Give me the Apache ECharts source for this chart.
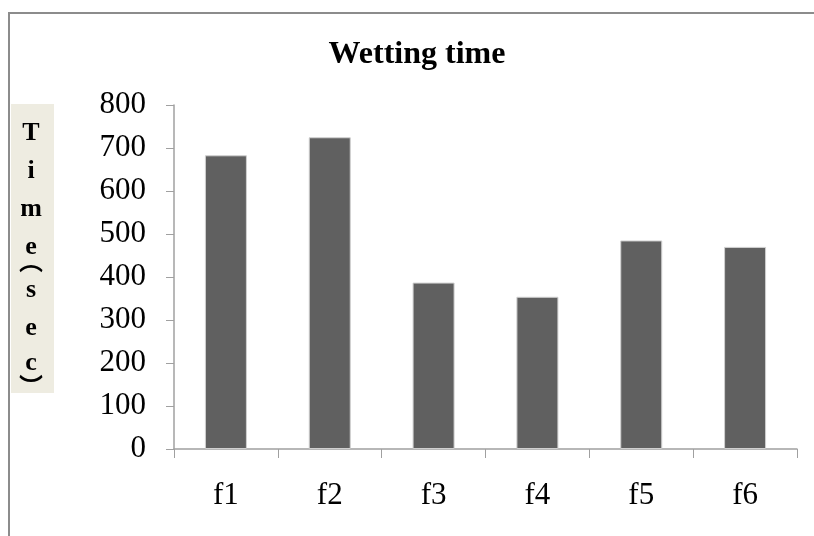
<!DOCTYPE html>
<html>
<head>
<meta charset="utf-8">
<script src="https://cdn.jsdelivr.net/npm/echarts@6/dist/echarts.min.js"></script>
<style>
  html, body { margin: 0; padding: 0; background: #fff; }
  #main { width: 814px; height: 536px; }
</style>
</head>
<body>
<div id="main"></div>
<script>
// 数据
var categories = ['f1', 'f2', 'f3', 'f4', 'f5', 'f6'];
var wettingTime = [683, 725, 387, 354, 485, 470];
var yTicks = { min: 0, max: 800, step: 100 };
var titleText = 'Wetting time';
// 纵轴标题，逐字竖排，括号用竖排形式
var yLabelChars = ['T', 'i', 'm', 'e', '︵', 's', 'e', 'c', '︶'];
var yLabelCharY = [133, 171, 209, 247, 261, 290, 328, 363, 386];

var serif = '"Liberation Serif", "DejaVu Serif", serif';
var cjk = '"Noto Sans CJK SC", sans-serif';

var chart = echarts.init(document.getElementById('main'));

// 纵轴标题的字
var labelTexts = yLabelChars.map(function (ch, i) {
    var isParen = (ch === '︵' || ch === '︶');
    return {
        type: 'text',
        x: 31,
        y: yLabelCharY[i],
        z: 3,
        style: {
            text: ch,
            fill: '#000',
            font: isParen ? ('bold 24px ' + cjk) : ('bold 26px ' + serif),
            align: 'center',
            verticalAlign: 'middle'
        }
    };
});

chart.setOption({
    animation: false,
    backgroundColor: '#fff',
    title: {
        text: titleText,
        left: 412,
        top: 34,
        textAlign: 'center',
        textStyle: {
            fontFamily: serif,
            fontWeight: 'bold',
            fontSize: 32,
            color: '#000'
        }
    },
    grid: {
        left: 174,
        right: 17,
        top: 105,
        bottom: 87,
        containLabel: false
    },
    xAxis: {
        type: 'category',
        data: categories,
        axisLine: { lineStyle: { color: '#a0a0a0', width: 1.5 } },
        axisTick: { show: true, length: 9, alignWithLabel: false, lineStyle: { color: '#a0a0a0' } },
        axisLabel: {
            margin: 31,
            fontFamily: serif,
            fontSize: 31,
            color: '#000'
        },
        splitLine: { show: false }
    },
    yAxis: {
        type: 'value',
        min: yTicks.min,
        max: yTicks.max,
        interval: yTicks.step,
        axisLine: { show: true, lineStyle: { color: '#a0a0a0', width: 1.5 } },
        axisTick: { show: true, length: 8, lineStyle: { color: '#a0a0a0' } },
        axisLabel: {
            margin: 28,
            fontFamily: serif,
            fontSize: 31,
            color: '#000'
        },
        splitLine: { show: false }
    },
    series: [{
        type: 'bar',
        data: wettingTime,
        barWidth: 42,
        itemStyle: {
            color: '#606060',
            borderColor: '#d0d0d0',
            borderWidth: 1
        }
    }],
    graphic: [
        {
            // 外框
            type: 'rect',
            shape: { x: 9, y: 13, width: 900, height: 700 },
            style: { fill: 'none', stroke: '#8c8c8c', lineWidth: 2 },
            z: 1
        },
        {
            // 纵轴标题底色
            type: 'rect',
            shape: { x: 11, y: 104, width: 43, height: 289 },
            style: { fill: '#eeece1' },
            z: 2
        }
    ].concat(labelTexts)
});
</script>
</body>
</html>
